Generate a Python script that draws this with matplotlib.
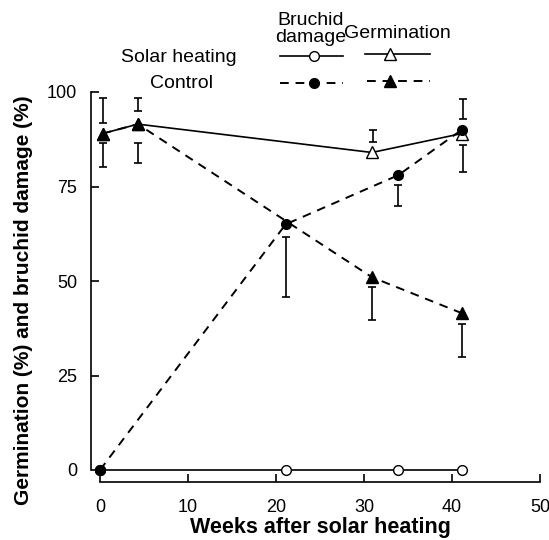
import matplotlib
matplotlib.use('Agg')
import matplotlib.pyplot as plt
from matplotlib.lines import Line2D

plt.rcParams['font.family'] = ['Liberation Sans', 'DejaVu Sans']

# data (weeks, %)
damage_weeks = [0, 21.1, 33.9, 41.1]
damage_solar = [0, 0, 0, 0]
damage_control = [0, 65, 78, 90]

germ_weeks = [0.3, 4.3, 30.9, 41.1]
germ_solar = [89, 91.5, 84, 89]
germ_control = [89, 91.5, 51, 41.5]

# error bars drawn apart from the markers: x, low end, high end
err_x = [0.3, 0.3, 4.3, 4.3, 21.1, 31.0, 30.9, 33.9, 41.2, 41.2, 41.1]
err_lo = [91.7, 80.1, 95.0, 81.1, 45.8, 86.8, 39.7, 69.8, 92.8, 78.9, 30.0]
err_hi = [98.4, 86.4, 98.3, 86.4, 61.7, 89.9, 48.3, 75.4, 98.1, 86.0, 38.6]

x_ticks = [0, 10, 20, 30, 40, 50]
y_ticks = [0, 25, 50, 75, 100]

W, H = 549, 540
fig = plt.figure(figsize=(W / 100, H / 100), dpi=100)
ax = fig.add_axes([100 / W, 1 - 470 / H, 440 / W, 378 / H])

solid = dict(color='k', lw=1.2)
dashed = dict(color='k', lw=1.4, ls=(0, (4.5, 3.5)))

ax.plot(damage_weeks, damage_solar, marker='o', mfc='white', mec='k', ms=7, clip_on=False, zorder=3, **solid)
ax.plot(damage_weeks, damage_control, marker='o', mfc='k', mec='k', ms=7, clip_on=False, zorder=4, **dashed)
ax.plot(germ_weeks, germ_control, marker='^', mfc='k', mec='k', ms=8.5, clip_on=False, zorder=4, **dashed)
ax.plot(germ_weeks, germ_solar, marker='^', mfc='white', mec='k', ms=8.5, clip_on=False, zorder=3, **solid)
# first circle is the shared start point, drawn filled
ax.plot(damage_weeks[0], damage_control[0], 'o', color='k', ms=7, clip_on=False, zorder=5)

mid = [(lo + hi) / 2 for lo, hi in zip(err_lo, err_hi)]
half = [(hi - lo) / 2 for lo, hi in zip(err_lo, err_hi)]
ax.errorbar(err_x, mid, yerr=half, fmt='none', ecolor='k', elinewidth=1.2, capsize=2.7, capthick=1.2, clip_on=False)

ax.set_xlim(0, 50)
ax.set_ylim(0, 100)
ax.set_xticks(x_ticks)
ax.set_yticks(y_ticks)
ax.tick_params(direction='in', length=6, width=1.2, labelsize=13)
ax.tick_params(axis='x', pad=12)
ax.tick_params(axis='y', pad=10)
for s in ['top', 'right']:
    ax.spines[s].set_visible(False)
ax.spines['left'].set_position(('outward', 6.5))
ax.spines['bottom'].set_position(('outward', 8.6))
ax.spines['left'].set_bounds(0, 100)
ax.spines['bottom'].set_bounds(0, 50)
ax.spines['left'].set_linewidth(1.2)
ax.spines['bottom'].set_linewidth(1.2)

ax.set_xlabel('Weeks after solar heating', fontsize=15.5, fontweight='bold')
ax.set_ylabel('Germination (%) and bruchid damage (%)', fontsize=15, fontweight='bold')
ax.xaxis.set_label_coords(0.5, -0.125)
ax.yaxis.set_label_coords(-0.152, 0.45)


# legend built by hand at the top
def px(x, y):
    return x / W, 1 - y / H


def sample(x0, x1, y, xm, marker, filled, style):
    (a, b), (c, d) = px(x0, y), px(x1, y)
    fig.add_artist(Line2D([a, c], [b, d], transform=fig.transFigure, **style))
    mx, my = px(xm, y)
    fig.add_artist(Line2D([mx], [my], transform=fig.transFigure, marker=marker, ls='none',
                          mfc='k' if filled else 'white', mec='k', ms=8 if marker == '^' else 7))


fig.text(*px(311, 29), 'Bruchid\ndamage', ha='center', va='center', fontsize=14, linespacing=0.95)
fig.text(*px(397, 34), 'Germination', ha='center', va='center', fontsize=14)
fig.text(*px(121, 57), 'Solar heating', ha='left', va='center', fontsize=14)
fig.text(*px(150, 84), 'Control', ha='left', va='center', fontsize=14)
sample(280, 343, 56, 314, 'o', False, solid)
sample(365, 430, 54, 390, '^', False, solid)
sample(280, 343, 83, 314, 'o', True, dashed)
sample(367, 430, 81, 390, '^', True, dashed)

fig.savefig('out.png', dpi=100)
